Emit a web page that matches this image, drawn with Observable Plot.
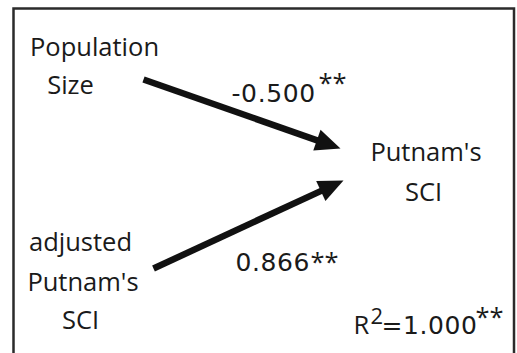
<!DOCTYPE html>
<html>
<head>
<meta charset="utf-8">
<script src="https://cdn.jsdelivr.net/npm/d3@7"></script>
<script src="https://cdn.jsdelivr.net/npm/@observablehq/plot@0.6"></script>
<style>
  html, body { margin: 0; padding: 0; background: #fff; }
  #chart svg { display: block; }
  #chart .num text { letter-spacing: 0.6px; }
</style>
</head>
<body>
<div id="chart"></div>
<script>
// Path model: two predictors of Putnam's SCI
const nodeNames = ["Population Size", "adjusted Putnam's SCI", "Putnam's SCI"];
const nodeLines = [["Population", "Size"], ["adjusted", "Putnam's", "SCI"], ["Putnam's", "SCI"]];
const pathFrom = ["Population Size", "adjusted Putnam's SCI"];
const pathTo = ["Putnam's SCI", "Putnam's SCI"];
const pathCoefficients = [-0.500, 0.866];
const pathSignificance = ["**", "**"];
const rSquared = 1.000;
const rSquaredSignificance = "**";

// Diagram layout in a 517 x 353 drawing frame
const W = 517, H = 353;
const FONT = "'Open Sans', sans-serif";
const NUM_FONT = "'DejaVu Sans', sans-serif";
const FS = 25.5;
const INK = "#1a1a1a";
const lineLayout = [
  [{x: 94, y: 55}, {x: 70, y: 93}],
  [{x: 80, y: 250}, {x: 82.5, y: 290}, {x: 80, y: 328}],
  [{x: 425.5, y: 160}, {x: 423, y: 200}]
];
const pathLayout = [
  {x1: 143, y1: 79, x2: 340, y2: 148, labelX: 231, labelY: 101, starX: 318, starY: 91},
  {x1: 153, y1: 268, x2: 343, y2: 180, labelX: 235, labelY: 270, starX: 310, starY: 270}
];
const HEAD = 25, HALF = 11;

const labelRows = nodeLines.flatMap((lines, i) =>
  lines.map((text, j) => ({node: nodeNames[i], text, ...lineLayout[i][j]})));

const paths = pathFrom.map((from, i) => {
  const p = pathLayout[i];
  const a = Math.atan2(p.y2 - p.y1, p.x2 - p.x1);
  return {
    from, to: pathTo[i], coef: pathCoefficients[i], sig: pathSignificance[i], ...p,
    angle: a * 180 / Math.PI,
    bx: p.x2 - (HEAD - 4) * Math.cos(a),
    by: p.y2 - (HEAD - 4) * Math.sin(a)
  };
});

// Filled arrowhead with its tip at the origin, pointing up before rotation
const arrowHead = {
  draw(context) {
    context.moveTo(0, 0);
    context.lineTo(-HALF, HEAD);
    context.lineTo(HALF, HEAD);
    context.closePath();
  }
};

const fmt = d3.format(".3f");
const r2 = [{R: "R", sup: "2", value: "=" + fmt(rSquared), sig: rSquaredSignificance}];
const txt = {fontSize: FS, fontFamily: FONT, fill: INK, lineAnchor: "bottom", textAnchor: "start"};
const num = {...txt, fontSize: 25, fontFamily: NUM_FONT, className: "num"};

const chart = Plot.plot({
  width: W,
  height: H,
  margin: 0,
  x: {domain: [0, W], range: [0, W], axis: null},
  y: {domain: [0, H], range: [0, H], axis: null},
  marks: [
    Plot.frame({stroke: "#2b2b2b", strokeWidth: 2.5, insetLeft: 13, insetTop: 8, insetRight: 3.5, insetBottom: -10}),
    Plot.link(paths, {x1: "x1", y1: "y1", x2: "bx", y2: "by", stroke: "#111", strokeWidth: 6.5, strokeLinecap: "butt"}),
    Plot.dot(paths, {x: "x2", y: "y2", symbol: arrowHead, rotate: d => d.angle + 90, fill: "#111", stroke: "none"}),
    Plot.text(labelRows, {...txt, x: "x", y: "y", text: "text", textAnchor: "middle"}),
    Plot.text(paths, {...num, x: "labelX", y: "labelY", text: d => fmt(d.coef).replace("−", "-")}),
    Plot.text(paths, {...txt, x: "starX", y: "starY", text: "sig"}),
    Plot.text(r2, {...txt, x: 353, y: 333, text: "R"}),
    Plot.text(r2, {...txt, x: 370, y: 323, fontSize: 22, text: "sup"}),
    Plot.text(r2, {...num, x: 381, y: 333, text: "value"}),
    Plot.text(r2, {...txt, x: 475, y: 325, text: "sig"})
  ]
});
document.getElementById("chart").append(chart);
</script>
</body>
</html>
